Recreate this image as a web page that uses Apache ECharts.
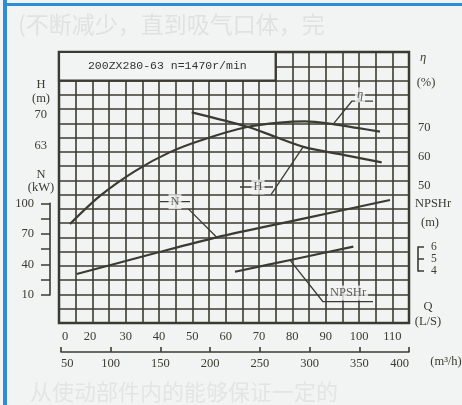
<!DOCTYPE html>
<html>
<head>
<meta charset="utf-8">
<style>
  html, body { margin: 0; padding: 0; background: #f2f4f3; }
  #chart { width: 462px; height: 405px; }
</style>
<script src="https://cdn.jsdelivr.net/npm/echarts@6.0.0/dist/echarts.min.js"></script>
</head>
<body>
<div id="chart"></div>
<script>
// 200ZX280-63 泵性能曲线
const title = '200ZX280-63 n=1470r/min'

// 刻度
const qTickPos = [11.8, 19.3, 30, 40, 50, 60, 70, 80, 90, 100, 110]
const qTickText = ['0', '20', '30', '40', '50', '60', '70', '80', '90', '100', '110']
const hTicks = [63, 70]
const nTicks = [10, 40, 70, 100]
const etaTicks = [50, 60, 70]
const npshTicks = [4, 5, 6]

// 曲线数据 Q (L/s)
const qH = [49.8, 66.3, 74.8, 83.3, 95.3, 106.8]
const head = [70.6, 67.4, 65.1, 62.8, 61.0, 59.3]
const qEta = [13.3, 22.3, 32.8, 43.3, 53.8, 66.4, 76.3, 83.8, 92.2, 99.4, 106.3]
const eta = [36.9, 46.5, 55.0, 61.5, 66.0, 70.1, 71.6, 72.0, 71.1, 69.8, 68.5]
const qN = [15.3, 37.3, 57.3, 82.3, 109.3]
const power = [30.6, 49.7, 66.6, 84.2, 103.2]
const qNpsh = [62.8, 80.5, 98.3]
const npsh = [3.94, 4.98, 6.03]

const ink = '#3b3b32'
const paper = '#f2f4f3'
const serif = '"Liberation Serif", "DejaVu Serif", serif'
const pairs = (xs, ys) => xs.map((x, i) => [x, ys[i]])

const chart = echarts.init(document.getElementById('chart'))

// 曲线标注 (轴坐标)
const notes = [
  { text: 'η', y: 3, at: [100.3, 81.1], path: [[92.2, 71.0], [97.9, 79.0], [104.2, 79.0]], italic: true },
  { text: 'H', y: 1, at: [69.7, 53.74], strike: [64.3, 74.2], path: [[83.3, 62.84], [73.6, 52.03]] },
  { text: 'N', y: 2, at: [44.8, 101.57], strike: [40.3, 49.3], path: [[57.3, 66.63], [48.8, 94.5]] },
  { text: 'NPSHr', y: 4, at: [96.7, 2.17], path: [[79.3, 4.9], [89.2, 1.44], [104.2, 1.44]] }
]

const curve = (name, xs, ys, yAxisIndex) => ({
  name, type: 'line', xAxisIndex: 0, yAxisIndex,
  data: pairs(xs, ys),
  smooth: 0.3, symbol: 'none', silent: true, z: 3,
  lineStyle: { color: ink, width: 2.2 }
})

const noteSeries = []
notes.forEach(n => {
  noteSeries.push({
    type: 'line', xAxisIndex: 0, yAxisIndex: n.y, data: n.path,
    symbol: 'none', silent: true, z: 3, lineStyle: { color: ink, width: 1.3 }
  })
  if (n.strike) {
    noteSeries.push({
      type: 'line', xAxisIndex: 0, yAxisIndex: n.y,
      data: [[n.strike[0], n.at[1]], [n.strike[1], n.at[1]]],
      symbol: 'none', silent: true, z: 3, lineStyle: { color: ink, width: 1.3 }
    })
  }
  noteSeries.push({
    type: 'scatter', xAxisIndex: 0, yAxisIndex: n.y, data: [n.at],
    symbolSize: 1, silent: true, z: 5, itemStyle: { color: 'rgba(0,0,0,0)' },
    label: {
      show: true, position: 'inside', formatter: n.text,
      fontFamily: serif, fontSize: 12.5, color: ink,
      fontStyle: n.italic ? 'italic' : 'normal',
      backgroundColor: paper, padding: [1, 2]
    }
  })
})

const labelStyle = { fontFamily: serif, fontSize: 12.5, color: ink }
const unit = (text, x, y, extra) => ({
  type: 'text', x, y,
  style: Object.assign({ text, font: '12.5px "Liberation Serif", serif', fill: ink, align: 'center', verticalAlign: 'middle' }, extra || {})
})

const option = {
  backgroundColor: paper,
  animation: false,
  grid: [
    { left: 59, top: 52, width: 350, height: 271, show: true, borderColor: ink, borderWidth: 2.5, backgroundColor: 'transparent' },
    { left: 50, top: 203.3, width: 1, height: 91.7 },
    { left: 418, top: 247, width: 1, height: 24 },
    { left: 61, top: 300, width: 348, height: 52 }
  ],
  xAxis: [
    {
      gridIndex: 0, type: 'value', min: 10, max: 115, interval: 5,
      axisLine: { show: false }, axisTick: { show: false },
      splitLine: { show: true, lineStyle: { color: ink, width: 1.6 } },
      axisLabel: Object.assign({
        customValues: qTickPos, margin: 7,
        formatter: v => qTickText[qTickPos.indexOf(v)]
      }, labelStyle)
    },
    { gridIndex: 1, type: 'value', show: false },
    { gridIndex: 2, type: 'value', show: false },
    {
      gridIndex: 3, type: 'value', min: 50, max: 400, interval: 50, position: 'bottom',
      axisLine: { show: true, lineStyle: { color: ink, width: 1.6 } },
      axisTick: { show: true, inside: true, length: 5, lineStyle: { color: ink, width: 1.6 } },
      splitLine: { show: false },
      axisLabel: Object.assign({ margin: 5, showMinLabel: true, showMaxLabel: true, alignMinLabel: 'left', alignMaxLabel: 'right' }, labelStyle)
    }
  ],
  yAxis: [
    {
      gridIndex: 0, type: 'value', position: 'left', min: 0, max: 19, interval: 1,
      axisLine: { show: false }, axisTick: { show: false }, axisLabel: { show: false },
      splitLine: { show: true, lineStyle: { color: ink, width: 1.6 } }
    },
    {
      gridIndex: 0, type: 'value', position: 'left', min: 23.03, max: 84.23,
      axisLine: { show: false }, axisTick: { show: false }, splitLine: { show: false },
      axisLabel: Object.assign({ customValues: hTicks, margin: 12 }, labelStyle)
    },
    { gridIndex: 0, type: 'value', position: 'left', min: -17.48, max: 248.49, show: false },
    {
      gridIndex: 0, type: 'value', position: 'right', min: 2.98, max: 95.79,
      axisLine: { show: false }, axisTick: { show: false }, splitLine: { show: false },
      axisLabel: Object.assign({ customValues: etaTicks, margin: 9 }, labelStyle)
    },
    { gridIndex: 0, type: 'value', position: 'right', min: -0.333, max: 22.25, show: false },
    {
      gridIndex: 1, type: 'value', position: 'left', min: 10, max: 100, interval: 15,
      axisLine: { show: true, lineStyle: { color: ink, width: 1.6 } },
      axisTick: { show: true, length: 9, lineStyle: { color: ink, width: 1.5 } },
      splitLine: { show: false },
      axisLabel: Object.assign({ customValues: nTicks, margin: 16 }, labelStyle)
    },
    {
      gridIndex: 2, type: 'value', position: 'right', min: 4, max: 6, interval: 1,
      axisLine: { show: true, lineStyle: { color: ink, width: 1.6 } },
      axisTick: { show: true, length: 6, customValues: npshTicks, lineStyle: { color: ink, width: 1.5 } },
      splitLine: { show: false },
      axisLabel: Object.assign({ customValues: npshTicks, margin: 12, showMinLabel: true, showMaxLabel: true, hideOverlap: false }, labelStyle, { fontSize: 11.5 })
    },
    { gridIndex: 3, type: 'value', show: false }
  ],
  series: [
    curve('H', qH, head, 1),
    curve('η', qEta, eta, 3),
    curve('N', qN, power, 2),
    curve('NPSHr', qNpsh, npsh, 4),
    {
      type: 'line', xAxisIndex: 0, yAxisIndex: 0, data: [], silent: true, z: 4,
      markArea: {
        silent: true,
        itemStyle: { color: paper, borderColor: ink, borderWidth: 2.2 },
        label: { show: true, position: 'inside', formatter: title, fontFamily: '"Liberation Mono", monospace', fontSize: 11.5, color: '#333' },
        data: [[{ xAxis: 10, yAxis: 17 }, { xAxis: 75, yAxis: 19 }]]
      }
    }
  ].concat(noteSeries),
  graphic: [
    { type: 'rect', shape: { x: 3, y: 0, width: 4, height: 405 }, style: { fill: '#2d8dd6' } },
    { type: 'rect', shape: { x: 3, y: 3, width: 459, height: 3 }, style: { fill: '#2d8dd6' } },
    { type: 'text', x: 18, y: 24, style: { text: '(不断减少，直到吸气口体，完', font: '23px "Noto Sans CJK SC"', fill: '#dfe2e1', verticalAlign: 'middle' } },
    { type: 'text', x: 30, y: 392, style: { text: '从使动部件内的能够保证一定的', font: '22px "Noto Sans CJK SC"', fill: '#e2e5e4', verticalAlign: 'middle' } },
    unit('H', 41, 85),
    unit('(m)', 41, 99),
    unit('N', 41, 175),
    unit('(kW)', 41, 188),
    unit('η', 423, 58, { font: 'italic 12.5px "Liberation Serif", serif' }),
    unit('(%)', 426, 83),
    unit('NPSHr', 433, 204),
    unit('(m)', 430, 223),
    unit('Q', 428, 307),
    unit('(L/S)', 428, 322),
    unit('(m³/h)', 446, 362)
  ]
}

chart.setOption(option)
</script>
</body>
</html>
